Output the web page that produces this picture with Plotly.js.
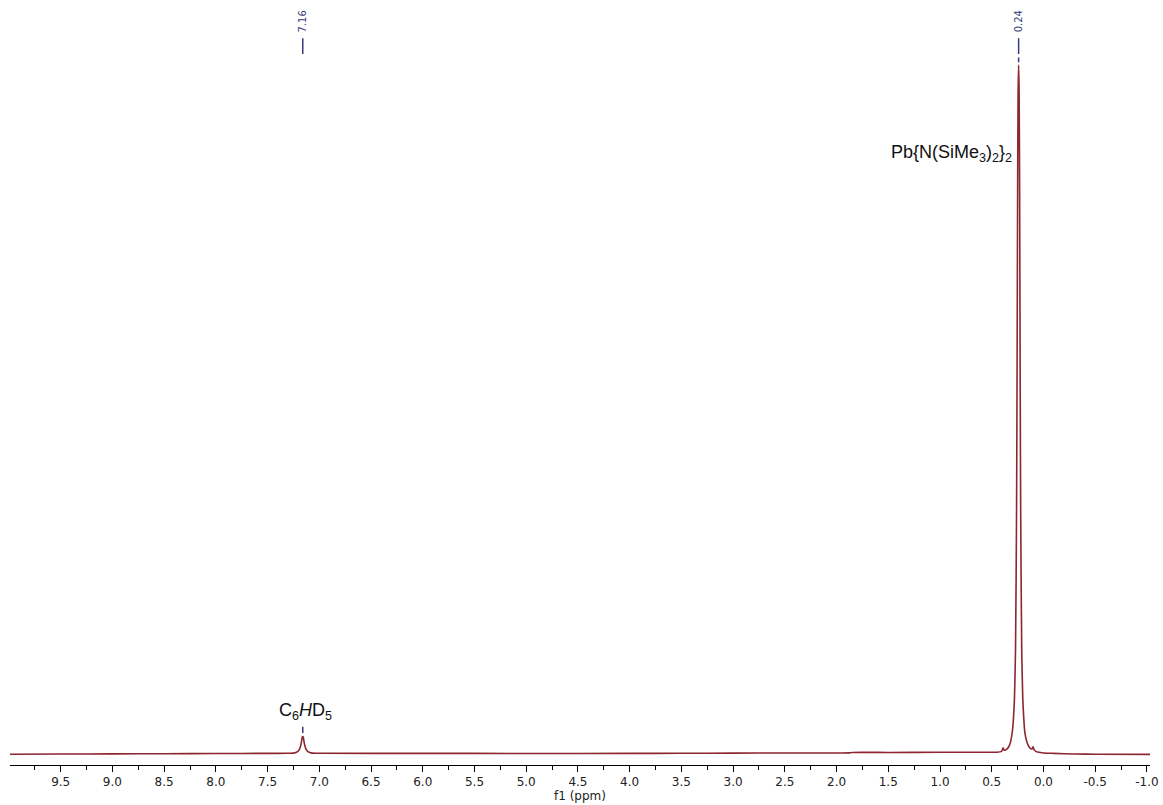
<!DOCTYPE html>
<html>
<head>
<meta charset="utf-8">
<script src="https://cdn.plot.ly/plotly-3.0.1.min.js"></script>
<style>html,body{margin:0;padding:0;background:#fff;}#chart{width:1163px;height:805px;}</style>
</head>
<body>
<div id="chart"></div>
<script>
// Chemical shift (ppm) and relative intensity
const shiftPpm = [
  10.0, 9.5, 9.0, 8.5, 8.0, 7.5, 7.3, 7.25, 7.21, 7.19, 7.175, 7.165, 7.16, 7.155, 7.145, 7.13, 7.11, 7.07,
  7.0, 6.0, 5.0, 4.0, 3.5, 3.0, 2.5, 2.0, 1.88, 1.85, 1.5, 1.0, 0.6, 0.5, 0.45, 0.41, 0.40, 0.39, 0.38, 0.36,
  0.34, 0.32, 0.30, 0.29, 0.28, 0.27, 0.26, 0.255, 0.25, 0.245, 0.24, 0.235, 0.23, 0.225, 0.22, 0.21,
  0.20, 0.19, 0.18, 0.16, 0.14, 0.12, 0.11, 0.10, 0.09, 0.07, 0.04, 0.0, -0.1, -0.3, -0.5, -1.03
];
const intensity = [
  -0.18, -0.15, -0.12, -0.10, -0.08, -0.05, -0.04, -0.02, 0.2, 0.6, 1.4, 2.3, 2.4, 2.3, 1.4, 0.6, 0.2, -0.02,
  -0.04, -0.05, -0.07, -0.06, -0.04, -0.02, 0.0, 0.01, 0.02, 0.08, 0.08, 0.10, 0.12, 0.12, 0.12, 0.2, 0.35, 0.75, 0.4, 0.5,
  0.8, 1.5, 3.2, 5.0, 8.0, 15, 35, 55, 80, 96, 100, 96, 80, 55, 35, 15,
  8.0, 5.0, 3.0, 1.6, 0.9, 0.6, 0.6, 0.9, 0.45, 0.2, 0.1, 0.0, -0.05, -0.15, -0.18, -0.2
];

// Axis ticks
const tickVals = [9.5, 9.0, 8.5, 8.0, 7.5, 7.0, 6.5, 6.0, 5.5, 5.0, 4.5, 4.0, 3.5, 3.0, 2.5, 2.0, 1.5, 1.0, 0.5, 0.0, -0.5, -1.0];
const tickText = ["9.5", "9.0", "8.5", "8.0", "7.5", "7.0", "6.5", "6.0", "5.5", "5.0", "4.5", "4.0", "3.5", "3.0", "2.5", "2.0", "1.5", "1.0", "0.5", "0.0", "-0.5", "-1.0"];

// Peak picks and assignments
const peakShifts = [7.16, 0.24];
const peakLabels = ["7.16", "0.24"];
const assignShifts = [7.13, 0.28];
const assignLabels = ["C<sub>6</sub><i>H</i>D<sub>5</sub>", "Pb{N(SiMe<sub>3</sub>)<sub>2</sub>}<sub>2</sub>"];
const assignHeights = [6.1, 87.2];

const navy = "#343d78";
const red = "#8c2630";

const trace = {
  x: shiftPpm, y: intensity, type: "scatter", mode: "lines",
  line: {color: red, width: 1.6, shape: "spline", smoothing: 0.6},
  hoverinfo: "x+y", showlegend: false
};

const annotations = [];
const shapes = [];
peakShifts.forEach((p, i) => {
  annotations.push({
    x: p, y: 106.3, xref: "x", yref: "y", text: peakLabels[i], showarrow: false,
    textangle: -90, font: {family: "DejaVu Sans, Verdana, sans-serif", size: 10, color: navy},
    xanchor: "center", yanchor: "middle"
  });
  shapes.push({type: "line", xref: "x", yref: "y", x0: p, x1: p, y0: 101.6, y1: 103.9,
    line: {color: navy, width: 1.5}});
});
// short pick marks just above the peaks
shapes.push({type: "line", xref: "x", yref: "y", x0: peakShifts[0], x1: peakShifts[0], y0: 2.9, y1: 3.8,
  line: {color: navy, width: 1.5}});
shapes.push({type: "line", xref: "x", yref: "y", x0: peakShifts[1], x1: peakShifts[1], y0: 100.4, y1: 101.1,
  line: {color: navy, width: 1.5}});

annotations.push({
  x: assignShifts[0], y: assignHeights[0], xref: "x", yref: "y", text: assignLabels[0], showarrow: false,
  font: {family: "Liberation Sans, Arial, sans-serif", size: 18, color: "#111"},
  xanchor: "center", yanchor: "middle"
});
annotations.push({
  x: assignShifts[1], y: assignHeights[1], xref: "x", yref: "y", text: assignLabels[1], showarrow: false,
  font: {family: "Liberation Sans, Arial, sans-serif", size: 18, color: "#111"},
  xanchor: "right", yanchor: "middle"
});

const layout = {
  width: 1163, height: 805,
  margin: {l: 10, r: 13, t: 0, b: 40},
  paper_bgcolor: "#fff", plot_bgcolor: "#fff",
  xaxis: {
    range: [9.99, -1.03], showgrid: false, zeroline: false,
    showline: true, linecolor: "#000", linewidth: 1,
    ticks: "outside", ticklen: 6, tickcolor: "#000", tickwidth: 1,
    tickmode: "array", tickvals: tickVals, ticktext: tickText,
    minor: {dtick: 0.25, tick0: 0, ticks: "outside", ticklen: 4, tickcolor: "#000", tickwidth: 1, showgrid: false},
    tickfont: {family: "DejaVu Sans, Verdana, sans-serif", size: 12, color: "#222"},
    title: {text: "f1 (ppm)", font: {family: "DejaVu Sans, Verdana, sans-serif", size: 12, color: "#222"}, standoff: 2},
    automargin: false, fixedrange: true
  },
  yaxis: {
    range: [-1.744, 109.45], visible: false, showgrid: false, zeroline: false, fixedrange: true
  },
  annotations: annotations,
  shapes: shapes
};

Plotly.newPlot("chart", [trace], layout, {displayModeBar: false, staticPlot: true});
</script>
</body>
</html>
